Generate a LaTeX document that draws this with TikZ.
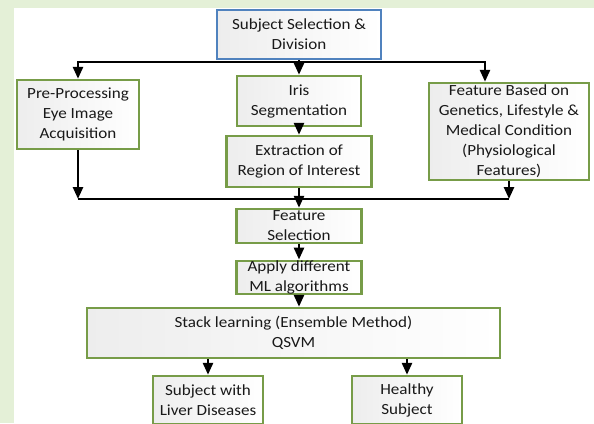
\documentclass[tikz,border=0pt]{standalone}
\usepackage{fontspec}
\setmainfont{Carlito}[FakeStretch=1.1]
\usetikzlibrary{arrows.meta}
\definecolor{boxgreen}{RGB}{119,156,72}
\definecolor{boxblue}{RGB}{80,130,190}
\definecolor{pagegreen}{RGB}{228,240,215}
\begin{document}
\begin{tikzpicture}[x=1pt, y=-1pt,
    every node/.style = {draw=boxgreen, line width=2.4pt, align=center, inner sep=0pt,
      left color=black!7, right color=white, text=black!90,
      font=\fontsize{15.5}{20}\selectfont},
    link/.style = {line width=2.6pt, -{Triangle[length=12pt, width=10pt]}}]

  \useasboundingbox (0,0) rectangle (594,423);
  \clip (0,0) rectangle (594,423);
  \fill[pagegreen] (0,0) rectangle (594,423);
  \fill[white] (14,8) rectangle (594,424);

  \node[draw=boxblue, minimum width=164, minimum height=49] (subject) at (299,34.5) {Subject Selection \&\\Division};
  \node[minimum width=122, minimum height=69] (pre) at (78,114.5) {Pre-Processing\\Eye Image\\Acquisition};
  \node[minimum width=124, minimum height=50] (iris) at (299,101) {Iris\\Segmentation};
  \node[minimum width=145, minimum height=51] (roi) at (299,161.5) {Extraction of\\Region of Interest};
  \node[minimum width=160, minimum height=97] (feat) at (509,131.5) {Feature Based on\\Genetics, Lifestyle \&\\Medical Condition\\(Physiological\\Features)};
  \node[minimum width=125, minimum height=34] (fsel) at (299,226) {Feature\\Selection};
  \node[minimum width=125, minimum height=33] (ml) at (299,277.5) {Apply different\\ML algorithms};
  \node[minimum width=413, minimum height=50] (stack) at (293.5,333) {Stack learning (Ensemble Method)\\QSVM};
  \node[minimum width=110, minimum height=48] (liver) at (208,400) {Subject with\\Liver Diseases};
  \node[minimum width=110, minimum height=48] (healthy) at (407,400) {Healthy\\Subject};

  \coordinate (split) at (299,62);
  \coordinate (merge) at (299,199);

  \draw[link] (subject) -- (iris);
  \draw[link] (split) -| (pre);
  \draw[link] (split) -| ([xshift=-24pt]feat.north);
  \draw[link] (iris) -- (roi);
  \draw[link] (pre) -- (pre |- merge);
  \draw[link] (feat) -- (feat |- merge);
  \draw[line width=2.6pt] (pre |- merge) -- (feat |- merge);
  \draw[link] (roi) -- (fsel);
  \draw[link] (fsel) -- (ml);
  \draw[link] (ml) -- (ml |- stack.north);
  \draw[link] (liver |- stack.south) -- (liver);
  \draw[link] (healthy |- stack.south) -- (healthy);

\end{tikzpicture}
\end{document}
